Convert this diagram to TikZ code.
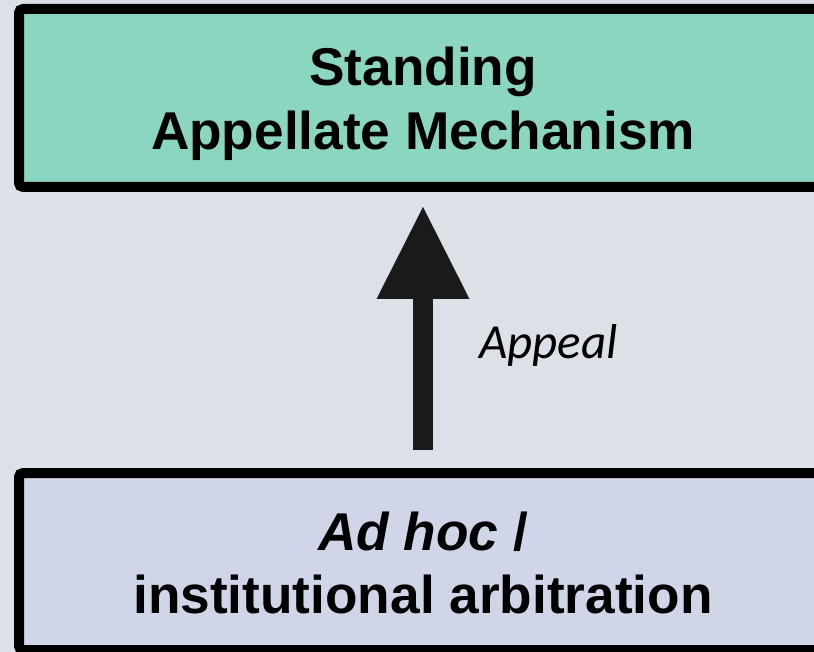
\documentclass[tikz,border=0pt]{standalone}
\usepackage{fontspec}
\setmainfont{Liberation Sans}
\newfontfamily\calfont{Carlito}
\usetikzlibrary{arrows.meta}
\definecolor{bgc}{HTML}{DBE1E6}
\definecolor{topc}{HTML}{8BD6C1}
\definecolor{botc}{HTML}{D0D5E8}
\definecolor{arrc}{HTML}{1A1A1A}
\begin{document}
\begin{tikzpicture}[x=1pt,y=-1pt,
  boxstyle/.style={draw=black,line width=10pt,rounded corners=4pt,minimum width=808pt,inner sep=0pt},
  titletext/.style={font=\fontsize{53.2}{64}\selectfont\bfseries,anchor=base,inner sep=0pt},
  ]
\useasboundingbox (0,0) rectangle (814,652);
\clip (0,0) rectangle (814,652);
\fill[bgc] (0,0) rectangle (814,652);
\node[boxstyle,fill=topc,minimum height=178pt] (top) at (423,98) {};
\node[boxstyle,fill=botc,minimum height=177pt] (bot) at (423,561.5) {};
\node[titletext] (t1) at (423,86) {Standing};
\node[titletext] (t2) at (423,150) {Appellate Mechanism};
\node[titletext] (b1) at (423,550) {\textit{Ad hoc} /};
\node[titletext] (b2) at (423,613) {institutional arbitration};
\draw[arrc,line width=20pt,-{Triangle[width=93pt,length=92pt,line width=0pt]},shorten <=18pt,shorten >=15pt] (bot.north) -- (top.south);
\node[font=\calfont\itshape\fontsize{49}{58}\selectfont,anchor=base west,inner sep=0pt] (lab) at (479,359) {Appeal};
\end{tikzpicture}
\end{document}
